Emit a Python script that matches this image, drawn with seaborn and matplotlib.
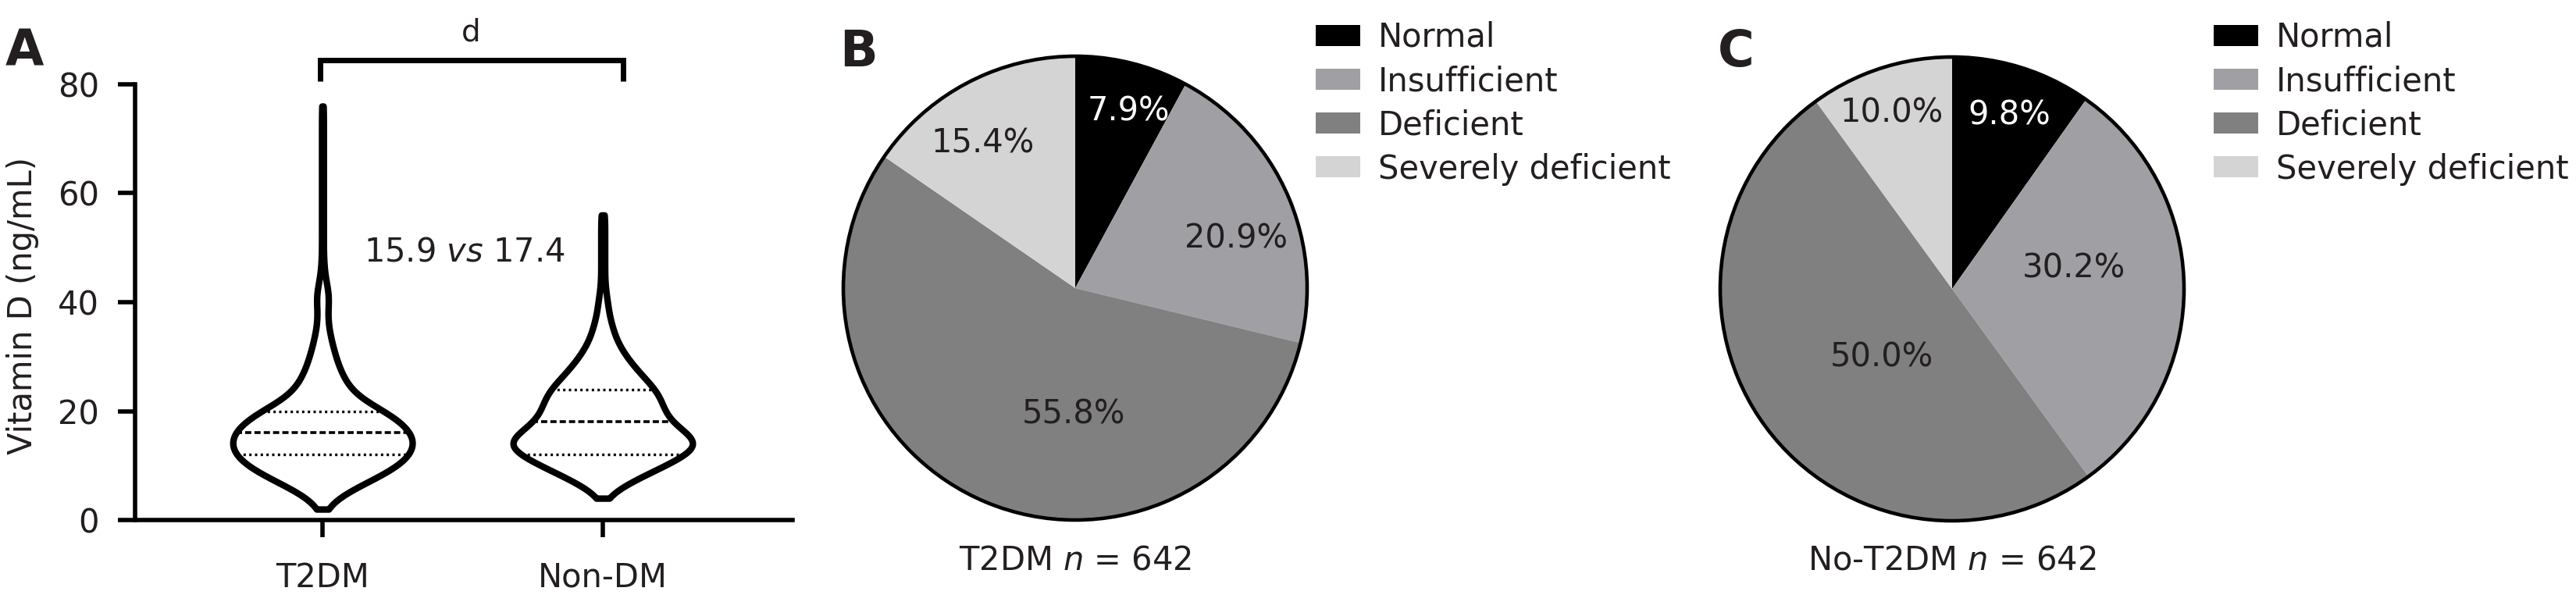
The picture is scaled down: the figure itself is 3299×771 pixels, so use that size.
import numpy as np
import pandas as pd
import matplotlib
matplotlib.use("Agg")
import matplotlib.pyplot as plt
from matplotlib.patches import Patch
import seaborn as sns

# ---------------- data ----------------
groups = ["T2DM", "Non-DM"]
# vitamin D levels (ng/mL) and estimated counts
vd_levels = [2, 4, 6, 8, 10, 12, 14, 16, 18, 20, 22, 24, 26, 28, 30, 32, 34, 36, 38,
             40, 42, 44, 46, 48, 50, 52, 54, 56, 58, 60, 62, 64, 66, 68, 70, 72, 74, 76]
t2dm_counts = [3, 14, 36, 62, 83, 96, 100, 97, 85, 68, 42, 30, 23, 18, 14, 11, 8, 6, 5,
               7, 7, 3, 2, 1, 1, 1, 1, 1, 1, 1, 1, 1, 1, 1, 1, 1, 1, 1]
nondm_counts = [0, 3, 18, 40, 64, 86, 100, 86, 70, 63, 60, 54, 43, 33, 24, 17, 12, 9, 6,
                5, 3, 2, 2, 2, 2, 2, 2, 2, 0, 0, 0, 0, 0, 0, 0, 0, 0, 0]
median_text = "15.9 $\\it{vs}$ 17.4"
sig_label = "d"
y_ticks = [0, 20, 40, 60, 80]

categories = ["Normal", "Insufficient", "Deficient", "Severely deficient"]
t2dm_pct = [7.9, 20.9, 55.8, 15.4]
no_t2dm_pct = [9.8, 30.2, 50.0, 10.0]
caption_b = "T2DM $\\it{n}$ = 642"
caption_c = "No-T2DM $\\it{n}$ = 642"

# ---------------- style ----------------
TXT = "#231f20"
pie_colors = ["#000000", "#a0a0a4", "#808080", "#d4d4d4"]
pct_colors = ["white", TXT, TXT, TXT]
b_label_xy = [(0.229, 0.761), (0.694, 0.215), (-0.007, -0.545), (-0.40, 0.623)]
c_label_xy = [(0.247, 0.75), (0.524, 0.088), (-0.304, -0.294), (-0.26, 0.76)]

sns.set_theme(style="ticks")
plt.rcParams["font.family"] = ["DejaVu Sans"]
plt.rcParams["mathtext.fontset"] = "dejavusans"

W, H = 3299, 771
fig = plt.figure(figsize=(W / 100, H / 100), dpi=100)
FS = 30

# ---------------- panel A ----------------
df = pd.concat([
    pd.DataFrame({"group": groups[0], "value": np.repeat(vd_levels, t2dm_counts)}),
    pd.DataFrame({"group": groups[1], "value": np.repeat(vd_levels, nondm_counts)}),
], ignore_index=True)

axA = fig.add_axes([173 / W, 1 - 666 / H, (1015 - 173) / W, (666 - 108) / H])
sns.violinplot(data=df, x="group", y="value", order=groups, color="white",
               saturation=1, linecolor="black", linewidth=6, inner="quart",
               inner_kws=dict(linewidth=2.2, color="black"), cut=0, width=0.64,
               density_norm="width", bw_adjust=0.75, gridsize=400, ax=axA)
for i, ln in enumerate(axA.lines):
    if i % 3 == 1:
        ln.set_linewidth(2.6)
        ln.set_linestyle((0, (2.2, 1.1)))
    else:
        ln.set_linewidth(2.4)
        ln.set_linestyle((0, (0.9, 1.3)))

axA.set_xlim(-0.669, 1.677)
axA.set_ylim(0, 80)
axA.set_yticks(y_ticks)
axA.set_xlabel("")
axA.set_ylabel("")
for s in ["top", "right"]:
    axA.spines[s].set_visible(False)
for s in ["left", "bottom"]:
    axA.spines[s].set_linewidth(4)
    axA.spines[s].set_color("black")
axA.tick_params(axis="both", direction="out", length=16, width=4, color="black",
                labelsize=FS, labelcolor=TXT)
axA.tick_params(axis="y", pad=17)
axA.tick_params(axis="x", pad=22)

axA.plot([-0.008, -0.008, 1.072, 1.072], [80.6, 84.4, 84.4, 80.6], color="black",
         lw=5, clip_on=False, solid_joinstyle="miter", solid_capstyle="butt")
axA.text(0.529, 89.6, sig_label, ha="center", va="center", fontsize=28, color=TXT)
axA.text(0.507, 49.3, median_text, ha="center", va="center", fontsize=FS, color=TXT)

fig.text(29 / W, 1 - 392 / H, "Vitamin D (ng/mL)", rotation=90, ha="center",
         va="center", fontsize=FS, color=TXT)

# ---------------- panels B & C ----------------
def draw_pie(cx, cy, r, values, label_xy, caption, legend_x):
    ax = fig.add_axes([(cx - r) / W, 1 - (cy + r) / H, 2 * r / W, 2 * r / H])
    _, _, autotexts = ax.pie(values, colors=pie_colors, startangle=90,
                             counterclock=False, autopct="%.1f%%",
                             wedgeprops=dict(linewidth=0),
                             textprops=dict(fontsize=FS, color=TXT))
    for t, xy, c in zip(autotexts, label_xy, pct_colors):
        t.set_position(xy)
        t.set_color(c)
        t.set_ha("center")
        t.set_va("center")
    ax.pie([1], colors=["none"], startangle=90,
           wedgeprops=dict(fill=False, edgecolor="black", linewidth=3.3))
    ax.set_xlim(-1, 1)
    ax.set_ylim(-1, 1)
    ax.set_aspect("equal")
    fig.text(cx / W, 1 - 729 / H, caption, ha="center", va="baseline",
             fontsize=FS, color=TXT)
    handles = [Patch(facecolor=c, edgecolor="none", label=l)
               for c, l in zip(pie_colors, categories)]
    fig.legend(handles=handles, loc="upper left",
               bbox_to_anchor=(legend_x / W, 1 - 27 / H), frameon=False,
               fontsize=FS, handlelength=1.37, handleheight=0.62,
               handletextpad=0.55, labelspacing=0.34, borderpad=0,
               borderaxespad=0, labelcolor=TXT)
    return ax

draw_pie(1377, 369, 297, t2dm_pct, b_label_xy, caption_b, 1685)
draw_pie(2500, 370, 297, no_t2dm_pct, c_label_xy, caption_c, 2835)

for lab, x in [("A", 7), ("B", 1075), ("C", 2200)]:
    fig.text(x / W, 1 - 85 / H, lab, ha="left", va="baseline", fontsize=46,
             fontweight="bold", color=TXT)

fig.savefig("out.png", dpi=100)
